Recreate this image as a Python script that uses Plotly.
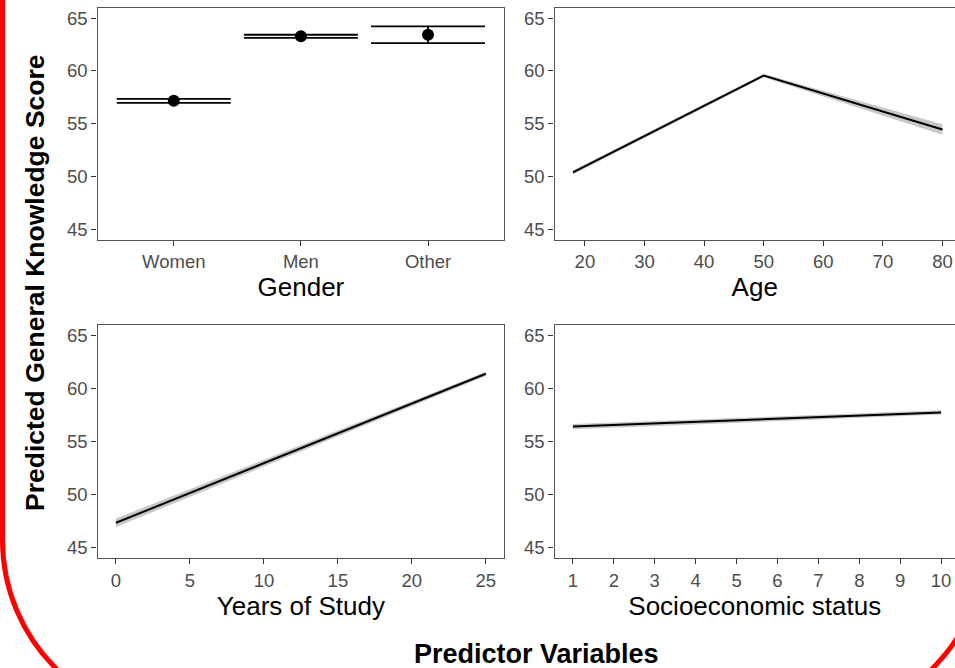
import plotly.graph_objects as go

# ---------------- data ----------------
gender_cats = ["Women", "Men", "Other"]
gender_mean = [57.18, 63.27, 63.42]
gender_low = [56.98, 63.12, 62.62]
gender_high = [57.35, 63.42, 64.22]

age_x = [18, 50, 80]
age_y = [50.40, 59.55, 54.45]
age_low = [50.20, 59.40, 53.95]
age_high = [50.60, 59.70, 54.95]

study_x = [0, 25]
study_y = [47.35, 61.40]
study_low = [46.95, 61.20]
study_high = [47.75, 61.60]

ses_x = [1, 10]
ses_y = [56.42, 57.75]
ses_low = [56.17, 57.55]
ses_high = [56.67, 57.95]

y_ticks = [45, 50, 55, 60, 65]

# ---------------- figure ----------------
W, H = 955, 668
FONT = "Liberation Sans, Arial, sans-serif"
TICK_COL = "#4D4D4D"
AX_COL = "#555555"
RIBBON = "rgba(153,153,153,0.55)"

def px(x):
    return x / W

def py(y):
    return 1 - y / H

fig = go.Figure()

# Gender panel (xaxis/yaxis)
fig.add_trace(go.Scatter(
    x=gender_cats, y=gender_mean, mode="markers",
    marker=dict(color="black", size=12),
    error_y=dict(type="data", symmetric=False,
                 array=[h - m for h, m in zip(gender_high, gender_mean)],
                 arrayminus=[m - l for l, m in zip(gender_low, gender_mean)],
                 color="black", thickness=1.8, width=57),
    xaxis="x", yaxis="y", showlegend=False))

def ribbon_line(xs, ys, lo, hi, xa, ya):
    fig.add_trace(go.Scatter(
        x=list(xs) + list(xs)[::-1], y=list(hi) + list(lo)[::-1],
        fill="toself", fillcolor=RIBBON, line=dict(width=0),
        mode="lines", xaxis=xa, yaxis=ya, showlegend=False, hoverinfo="skip"))
    fig.add_trace(go.Scatter(
        x=xs, y=ys, mode="lines", line=dict(color="black", width=2),
        xaxis=xa, yaxis=ya, showlegend=False))

ribbon_line(age_x, age_y, age_low, age_high, "x2", "y2")
ribbon_line(study_x, study_y, study_low, study_high, "x3", "y3")
ribbon_line(ses_x, ses_y, ses_low, ses_high, "x4", "y4")

left_dom = [px(97.5), px(504.3)]
right_dom = [px(554.5), 1.0]
top_dom = [py(240), py(7.5)]
bot_dom = [py(558.3), py(325)]

tickfont = dict(family=FONT, size=18.5, color=TICK_COL)
titlefont = dict(family=FONT, size=26, color="black")

def xax(dom, anchor, rng, title, mirror, **kw):
    d = dict(domain=dom, anchor=anchor, range=rng, showgrid=False, zeroline=False,
             showline=True, linecolor=AX_COL, linewidth=1.3, mirror=mirror,
             ticks="outside", ticklen=5, tickwidth=1.3, tickcolor="#333333",
             tickfont=tickfont, title=dict(text=title, font=titlefont, standoff=2))
    d.update(kw)
    return d

def yax(dom, anchor, mirror):
    return dict(domain=dom, anchor=anchor, range=[44, 66], showgrid=False, zeroline=False,
                showline=True, linecolor=AX_COL, linewidth=1.3, mirror=mirror,
                ticks="outside", ticklen=5, tickwidth=1.3, tickcolor="#333333",
                tickvals=y_ticks, tickfont=tickfont)

fig.update_layout(
    width=W, height=H,
    margin=dict(l=0, r=0, t=0, b=0),
    paper_bgcolor="white", plot_bgcolor="white",
    font=dict(family=FONT),
    xaxis=xax(left_dom, "y", [-0.6, 2.6], "Gender", True, type="category"),
    yaxis=yax(top_dom, "x", True),
    xaxis2=xax(right_dom, "y2", [14.9, 82.1], "Age", True, tickvals=[20, 30, 40, 50, 60, 70, 80]),
    yaxis2=yax(top_dom, "x2", False),
    xaxis3=xax(left_dom, "y3", [-1.25, 26.25], "Years of Study", True, tickvals=[0, 5, 10, 15, 20, 25]),
    yaxis3=yax(bot_dom, "x3", True),
    xaxis4=xax(right_dom, "y4", [0.55, 10.34], "Socioeconomic status", True, tickvals=list(range(1, 11))),
    yaxis4=yax(bot_dom, "x4", False),
    annotations=[
        dict(text="<b>Predicted General Knowledge Score</b>", x=px(35), y=py(283),
             xref="paper", yref="paper", textangle=-90, showarrow=False,
             font=dict(family=FONT, size=26.5, color="black"), xanchor="center", yanchor="middle"),
        dict(text="<b>Predictor Variables</b>", x=px(536), y=py(654),
             xref="paper", yref="paper", showarrow=False,
             font=dict(family=FONT, size=27, color="black"), xanchor="center", yanchor="middle"),
    ],
)

# decorative red rounded frame (slide border)
R = 181
k = 0.5523 * R
xl, xr, yb, yc = 2.5, 986, 721, 540
path = (f"M {px(xl)},{py(-50)} L {px(xl)},{py(yc)} "
        f"C {px(xl)},{py(yc + k)} {px(xl + R - k)},{py(yb)} {px(xl + R)},{py(yb)} "
        f"L {px(xr - R)},{py(yb)} "
        f"C {px(xr - R + k)},{py(yb)} {px(xr)},{py(yc + k)} {px(xr)},{py(yc)} "
        f"L {px(xr)},{py(-50)}")
fig.add_shape(type="path", path=path, xref="paper", yref="paper",
              line=dict(color="#FF0000", width=5), layer="above")

fig.write_html("out.html", config={"displayModeBar": False},
               post_script="document.body.style.margin='0';document.body.style.overflow='hidden';")
